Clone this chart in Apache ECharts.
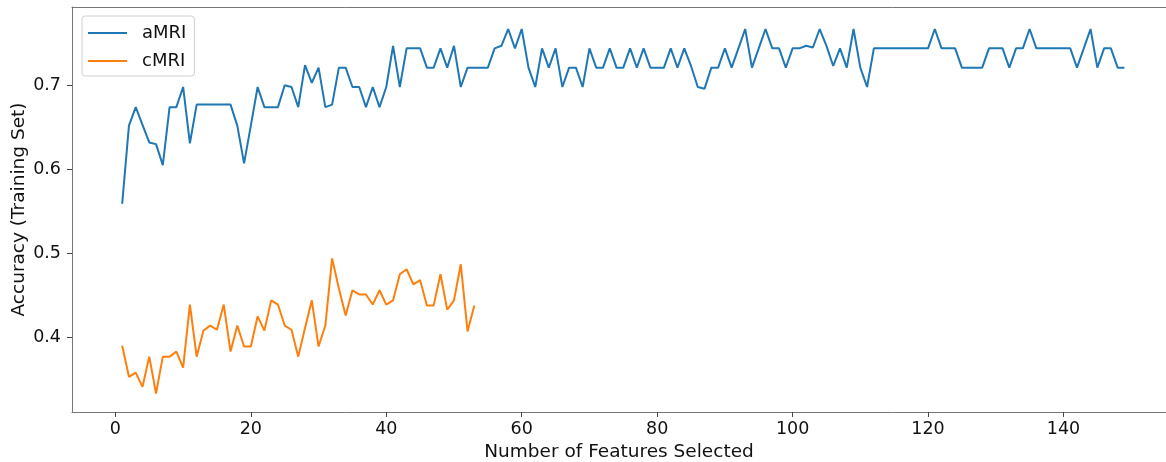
<!DOCTYPE html>
<html>
<head>
<meta charset="utf-8">
<script src="https://cdn.jsdelivr.net/npm/echarts@6/dist/echarts.min.js"></script>
<style>
  html, body { margin: 0; padding: 0; background: #fff; }
  #chart { width: 1166px; height: 462px; }
</style>
</head>
<body>
<div id="chart"></div>
<script>
// accuracy per number of selected features (starting at 1)
var amriAccuracy = [
    0.559, 0.652, 0.674, 0.653, 0.632, 0.630, 0.605, 0.674, 0.674, 0.698,
    0.631, 0.677, 0.677, 0.677, 0.677, 0.677, 0.677, 0.652, 0.607, 0.652,
    0.698, 0.674, 0.674, 0.674, 0.700, 0.698, 0.674, 0.724, 0.703, 0.721,
    0.674, 0.677, 0.721, 0.721, 0.698, 0.698, 0.674, 0.698, 0.674, 0.698,
    0.747, 0.698, 0.744, 0.744, 0.744, 0.721, 0.721, 0.744, 0.721, 0.747,
    0.698, 0.721, 0.721, 0.721, 0.721, 0.744, 0.747, 0.767, 0.744, 0.767,
    0.721, 0.698, 0.744, 0.721, 0.744, 0.698, 0.721, 0.721, 0.698, 0.744,
    0.721, 0.721, 0.744, 0.721, 0.721, 0.744, 0.721, 0.744, 0.721, 0.721,
    0.721, 0.744, 0.721, 0.744, 0.723, 0.698, 0.696, 0.721, 0.721, 0.744,
    0.721, 0.744, 0.767, 0.721, 0.744, 0.767, 0.744, 0.744, 0.721, 0.744,
    0.744, 0.747, 0.745, 0.767, 0.747, 0.723, 0.744, 0.721, 0.767, 0.721,
    0.698, 0.744, 0.744, 0.744, 0.744, 0.744, 0.744, 0.744, 0.744, 0.744,
    0.767, 0.744, 0.744, 0.744, 0.721, 0.721, 0.721, 0.721, 0.744, 0.744,
    0.744, 0.721, 0.744, 0.744, 0.767, 0.744, 0.744, 0.744, 0.744, 0.744,
    0.744, 0.721, 0.744, 0.767, 0.721, 0.744, 0.744, 0.721, 0.721
];
var cmriAccuracy = [
    0.390, 0.353, 0.358, 0.341, 0.377, 0.333, 0.377, 0.377, 0.383, 0.364,
    0.439, 0.377, 0.408, 0.414, 0.409, 0.439, 0.383, 0.414, 0.389, 0.389,
    0.425, 0.408, 0.444, 0.439, 0.414, 0.409, 0.377, 0.411, 0.444, 0.389,
    0.414, 0.494, 0.458, 0.426, 0.456, 0.451, 0.451, 0.439, 0.456, 0.439,
    0.444, 0.475, 0.481, 0.463, 0.468, 0.438, 0.438, 0.475, 0.433, 0.444,
    0.487, 0.407, 0.438
];
var xTicks = [0, 20, 40, 60, 80, 100, 120, 140];
var yTicks = [0.4, 0.5, 0.6, 0.7];

function toPairs(values) {
    var out = [];
    for (var i = 0; i < values.length; i++) {
        out.push([i + 1, values[i]]);
    }
    return out;
}

var font = 'DejaVu Sans';
var spine = '#777';
var ink = '#111';

var chart = echarts.init(document.getElementById('chart'), null, { renderer: 'canvas' });
chart.setOption({
    animation: false,
    color: ['#1f77b4', '#ff7f0e'],
    textStyle: { fontFamily: font },
    grid: {
        left: 72, top: 7, right: 0, bottom: 50,
        containLabel: false,
        outerBoundsMode: 'none'
    },
    legend: {
        left: 82, top: 16,
        orient: 'vertical',
        icon: 'rect',
        itemWidth: 39, itemHeight: 2,
        itemGap: 10,
        padding: [8, 8, 6, 6],
        backgroundColor: '#fff',
        borderColor: '#d0d0d0', borderWidth: 1, borderRadius: 3,
        textStyle: { fontFamily: font, fontSize: 18, color: ink, padding: [0, 0, 0, 10], lineHeight: 18 },
        data: ['aMRI', 'cMRI']
    },
    xAxis: [
        {
            type: 'value',
            min: -6.41, max: 155.14,
            name: 'Number of Features Selected',
            nameLocation: 'middle',
            nameGap: 31,
            nameMoveOverlap: false,
            nameTextStyle: { fontFamily: font, fontSize: 18.5, color: ink },
            axisLine: { show: true, onZero: false, lineStyle: { color: spine } },
            axisTick: { show: true, length: 5, customValues: xTicks, lineStyle: { color: '#444' } },
            axisLabel: { customValues: xTicks, margin: 8, fontFamily: font, fontSize: 17.5, color: ink },
            splitLine: { show: false }
        },
        {
            // top spine only
            type: 'value', position: 'top',
            min: -6.41, max: 155.14,
            axisLine: { show: true, onZero: false, lineStyle: { color: spine } },
            axisTick: { show: false },
            axisLabel: { show: false },
            splitLine: { show: false }
        }
    ],
    yAxis: {
        type: 'value',
        min: 0.3111, max: 0.7932,
        name: 'Accuracy (Training Set)',
        nameLocation: 'middle',
        nameGap: 43,
        nameMoveOverlap: false,
        nameTextStyle: { fontFamily: font, fontSize: 18.5, color: ink },
        axisLine: { show: true, onZero: false, lineStyle: { color: spine } },
        axisTick: { show: true, length: 5, customValues: yTicks, lineStyle: { color: '#444' } },
        axisLabel: {
            customValues: yTicks, margin: 11, fontFamily: font, fontSize: 17.5, color: ink,
            formatter: function (v) { return v.toFixed(1); }
        },
        splitLine: { show: false }
    },
    series: [
        {
            name: 'aMRI', type: 'line', data: toPairs(amriAccuracy),
            showSymbol: false, lineStyle: { width: 2 }, z: 2
        },
        {
            name: 'cMRI', type: 'line', data: toPairs(cmriAccuracy),
            showSymbol: false, lineStyle: { width: 2 }, z: 2
        }
    ]
});
window.addEventListener('resize', function () { chart.resize(); });
</script>
</body>
</html>
